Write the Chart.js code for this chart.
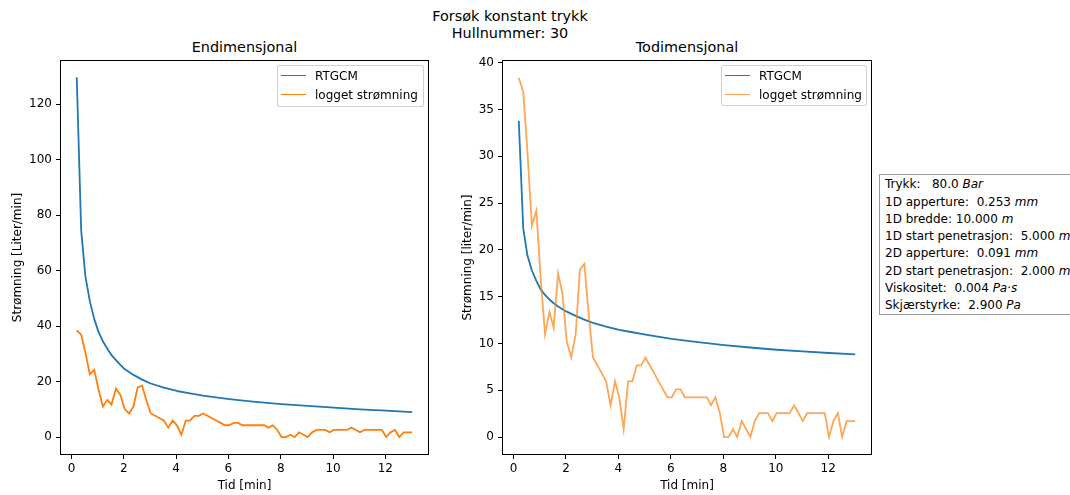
<!DOCTYPE html>
<html>
<head>
<meta charset="utf-8">
<script src="https://cdn.jsdelivr.net/npm/chart.js@4"></script>
<style>
html,body{margin:0;padding:0;background:#fff;width:1070px;height:495px;overflow:hidden;font-family:"DejaVu Sans",sans-serif;color:#000;}
.abs{position:absolute;white-space:pre;line-height:1;}
canvas{position:absolute;top:0;}
.title{font-size:14.4px;transform:translate(-50%,-50%);}
.leg{position:absolute;background:rgba(255,255,255,0.8);border:1px solid rgba(204,204,204,0.9);border-radius:3px;box-sizing:border-box;}
.leg .sw{position:absolute;left:3px;width:25px;height:0;border-top:1.8px solid;}
.leg .tx{position:absolute;left:37px;font-size:12px;transform:translateY(-50%);white-space:pre;}
#info{position:absolute;left:879px;top:174px;width:210px;height:141px;border:1px solid #999;box-sizing:border-box;background:#fff;font-size:12px;line-height:17.3px;padding:1.3px 0 0 5px;white-space:pre;}
</style>
</head>
<body>
<div class="abs title" style="left:510px;top:16px">Forsøk konstant trykk</div>
<div class="abs title" style="left:510px;top:33px">Hullnummer: 30</div>
<div class="abs title" style="left:244.5px;top:47px">Endimensjonal</div>
<div class="abs title" style="left:687px;top:47px">Todimensjonal</div>

<canvas id="c1" width="450" height="495" style="left:0px"></canvas>
<canvas id="c2" width="450" height="495" style="left:450px"></canvas>

<div class="leg" style="left:277px;top:65px;width:147px;height:42px">
  <div class="sw" style="top:9px;border-color:#1f77b4"></div><div class="tx" style="top:10px">RTGCM</div>
  <div class="sw" style="top:28px;border-color:#ff7f0e"></div><div class="tx" style="top:29px">logget strømning</div>
</div>
<div class="leg" style="left:721px;top:65px;width:146px;height:41px">
  <div class="sw" style="top:9px;border-color:#1f77b4"></div><div class="tx" style="top:10px">RTGCM</div>
  <div class="sw" style="top:28px;border-color:rgba(255,127,14,0.7)"></div><div class="tx" style="top:29px">logget strømning</div>
</div>

<div id="info">Trykk:   80.0 <i>Bar</i>
1D apperture:  0.253 <i>mm</i>
1D bredde: 10.000 <i>m</i>
1D start penetrasjon:  5.000 <i>m</i>
2D apperture:  0.091 <i>mm</i>
2D start penetrasjon:  2.000 <i>m</i>
Viskositet:  0.004 <i>Pa</i>·<i>s</i>
Skjærstyrke:  2.900 <i>Pa</i></div>

<script>
// ---- data ----
const timeMin = [0.20,0.37,0.53,0.70,0.87,1.03,1.20,1.37,1.53,1.70,
  1.87,2.03,2.20,2.37,2.53,2.70,2.87,3.03,3.20,3.37,
  3.53,3.70,3.87,4.03,4.20,4.37,4.53,4.70,4.87,5.03,
  5.20,5.37,5.53,5.70,5.87,6.03,6.20,6.37,6.53,6.70,
  6.87,7.03,7.20,7.37,7.53,7.70,7.87,8.03,8.20,8.37,
  8.53,8.70,8.87,9.03,9.20,9.37,9.53,9.70,9.87,10.03,
  10.20,10.37,10.53,10.70,10.87,11.03,11.20,11.37,11.53,11.70,
  11.87,12.03,12.20,12.37,12.53,12.70,12.87,13.03];
const loggedFlow = [38.4,36.9,30.5,22.6,24.2,17.2,11.0,13.4,11.7,17.5,
  15.2,10.2,8.5,11.0,17.9,18.5,13.0,8.5,7.65,6.8,
  5.95,3.4,5.95,4.25,0.85,5.95,5.95,7.65,7.65,8.5,
  7.65,6.8,5.95,5.1,4.25,4.25,5.1,5.1,4.25,4.25,
  4.25,4.25,4.25,4.25,3.4,4.25,2.55,0,0,0.85,
  0,1.7,0.85,0,1.7,2.55,2.55,2.55,1.7,2.55,
  2.55,2.55,2.55,3.4,2.55,1.7,2.55,2.55,2.55,2.55,
  2.55,0,1.7,2.55,0,1.7,1.7,1.7];
const modelTime = [0.20,0.37,0.53,0.70,0.87,1.03,1.20,1.37,1.53,1.70,1.87,2.03,2.37,2.70,3.03,3.53,4.03,4.53,5.03,6.03,7.03,8.03,9.03,10.03,11.03,12.03,13.03];
const rtgcm1D = [129.7,74.5,58.0,49.0,42.5,38.0,34.5,31.8,29.5,27.7,26.0,24.5,22.4,20.7,19.3,17.8,16.6,15.7,14.9,13.7,12.7,11.9,11.2,10.6,10.0,9.5,9.0];
const rtgcm2D = [33.8,22.3,19.4,17.8,16.7,15.8,15.2,14.7,14.3,13.95,13.65,13.4,12.95,12.55,12.2,11.8,11.45,11.2,10.95,10.5,10.15,9.83,9.57,9.33,9.15,8.98,8.84];
const xTicks = [0,2,4,6,8,10,12];
const yTicks1D = [0,20,40,60,80,100,120];
const yTicks2D = [0,5,10,15,20,25,30,35,40];

Chart.defaults.font.family = "'DejaVu Sans', sans-serif";
Chart.defaults.color = '#000';

const framePlugin = {
  id: 'frame',
  afterDraw(chart) {
    const {ctx, chartArea: a} = chart;
    ctx.save();
    ctx.strokeStyle = '#000';
    ctx.lineWidth = 1;
    ctx.strokeRect(Math.round(a.left) + 0.5, Math.round(a.top) + 0.5,
                   Math.round(a.right - a.left) - 1, Math.round(a.bottom - a.top) - 1);
    ctx.restore();
  }
};

function pts(xs, ys) { return xs.map((x, i) => ({x: x, y: ys[i]})); }

function makeChart(id, model, yTicks, ymin, ymax, ylabel, orangeColor, yAxisW, padRight) {
  return new Chart(document.getElementById(id), {
    type: 'line',
    data: {
      datasets: [
        {label: 'logget strømning', data: pts(timeMin, loggedFlow), borderColor: orangeColor,
         borderWidth: 1.8, pointRadius: 0, tension: 0, order: 0, fill: false},
        {label: 'RTGCM', data: pts(modelTime, model), borderColor: '#1f77b4',
         borderWidth: 1.8, pointRadius: 0, tension: 0, order: 1, fill: false, borderJoinStyle: 'round'}
      ]
    },
    options: {
      responsive: false, animation: false, devicePixelRatio: 1,
      layout: {padding: {left: 0, right: padRight, top: 60, bottom: 0}},
      plugins: {legend: {display: false}, tooltip: {enabled: false}, title: {display: false}},
      scales: {
        x: {
          type: 'linear', min: -0.44, max: 13.67,
          afterBuildTicks: s => { s.ticks = xTicks.map(v => ({value: v})); },
          afterFit: s => { s.height = 40; },
          grid: {display: true, drawOnChartArea: false, drawTicks: true, tickLength: 4, tickWidth: 1, tickColor: '#000'},
          border: {display: false},
          ticks: {autoSkip: false, maxRotation: 0, padding: 3, font: {size: 12}, color: '#000'},
          title: {display: true, text: 'Tid [min]', font: {size: 12}, color: '#000', padding: {top: 0, bottom: 2}}
        },
        y: {
          type: 'linear', min: ymin, max: ymax,
          afterBuildTicks: s => { s.ticks = yTicks.map(v => ({value: v})); },
          afterFit: s => { s.width = yAxisW; },
          grid: {display: true, drawOnChartArea: false, drawTicks: true, tickLength: 4, tickWidth: 1, tickColor: '#000'},
          border: {display: false},
          ticks: {autoSkip: false, padding: 4, font: {size: 12}, color: '#000'},
          title: {display: true, text: ylabel, font: {size: 12}, color: '#000', padding: {top: 11, bottom: 0}}
        }
      }
    },
    plugins: [framePlugin]
  });
}

makeChart('c1', rtgcm1D, yTicks1D, -6.47, 135.9, 'Strømning [Liter/min]', '#ff7f0e', 60, 21);
makeChart('c2', rtgcm2D, yTicks2D, -1.92, 40.3, 'Strømning [liter/min]', 'rgba(255,127,14,0.7)', 52, 28);
</script>
</body>
</html>
